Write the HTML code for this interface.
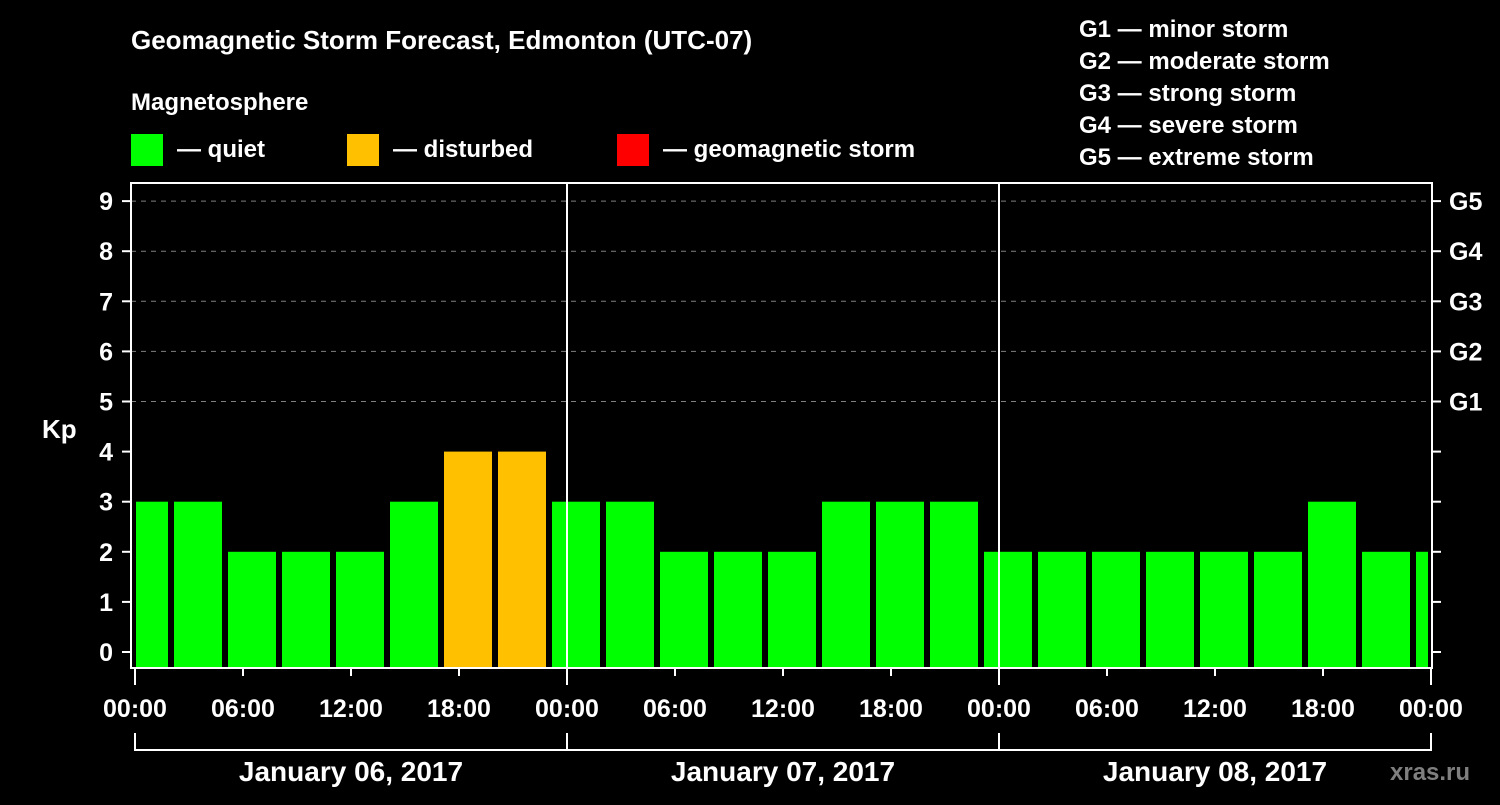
<!DOCTYPE html>
<html><head><meta charset="utf-8"><style>
body{margin:0;background:#000;width:1500px;height:800px;overflow:hidden}
svg text{font-family:"Liberation Sans",sans-serif;font-weight:bold;fill:#fff}
</style></head><body>
<svg width="1500" height="800" xmlns="http://www.w3.org/2000/svg">
<text x="131" y="49" font-size="26">Geomagnetic Storm Forecast, Edmonton (UTC-07)</text>
<text x="131" y="110" font-size="24">Magnetosphere</text>
<rect x="131" y="134" width="32" height="32" fill="#00ff00"/>
<text x="177" y="157" font-size="24">— quiet</text>
<rect x="347" y="134" width="32" height="32" fill="#ffc000"/>
<text x="393" y="157" font-size="24">— disturbed</text>
<rect x="617" y="134" width="32" height="32" fill="#ff0000"/>
<text x="663" y="157" font-size="24">— geomagnetic storm</text>
<g font-size="24">
<text x="1079" y="37">G1 — minor storm</text>
<text x="1079" y="69">G2 — moderate storm</text>
<text x="1079" y="101">G3 — strong storm</text>
<text x="1079" y="133">G4 — severe storm</text>
<text x="1079" y="165">G5 — extreme storm</text>
</g>
<text x="42" y="438" font-size="26">Kp</text>
<g id="grid"></g><g id="bars"></g><g id="axes"></g>
<text x="1390" y="780" font-size="24" fill="#888" style="fill:#7f7f7f">xras.ru</text>
</svg>
<script>
const slotStartHours=[-1,2,5,8,11,14,17,20,23,26,29,32,35,38,41,44,47,50,53,56,59,62,65,68,71];
const kpValues=[3,3,2,2,2,3,4,4,3,3,2,2,2,3,3,3,2,2,2,2,2,2,3,2,2];
const yTicks=[0,1,2,3,4,5,6,7,8,9];
const gLabels=["G1","G2","G3","G4","G5"];
const xTickLabels=["00:00","06:00","12:00","18:00","00:00","06:00","12:00","18:00","00:00","06:00","12:00","18:00","00:00"];
const dayLabels=["January 06, 2017","January 07, 2017","January 08, 2017"];
const NS="http://www.w3.org/2000/svg";
const L=131,R=1432,T=183,B=668;
const x=h=>135+h*18;
const y=v=>652-v*50.1;
function mk(tag,attrs,parent,text){const e=document.createElementNS(NS,tag);for(const k in attrs)e.setAttribute(k,attrs[k]);if(text!=null)e.textContent=text;parent.appendChild(e);return e;}
const grid=document.getElementById('grid'),bars=document.getElementById('bars'),axes=document.getElementById('axes');
yTicks.forEach(v=>{
 if(v>=5){const g=mk('line',{x1:L,x2:R,y1:y(v),y2:y(v),stroke:'#808080','stroke-dasharray':'5,5','stroke-width':1},grid);
 
 }
 const t=mk('line',{x1:122,x2:L,y1:y(v),y2:y(v),stroke:'#fff','stroke-width':2},axes);
 
 
 const lb=mk('text',{x:113,y:y(v)+9,'font-size':25,'text-anchor':'end'},axes,String(v));
 
 
 const rt=mk('line',{x1:R,x2:1441,y1:y(v),y2:y(v),stroke:'#fff','stroke-width':2},axes);
 
 
});
gLabels.forEach((g,i)=>{const t=mk('text',{x:1449,y:y(5+i)+9,'font-size':25},axes,g);
 
 });
kpValues.forEach((v,i)=>{
 let x0=Math.max(x(slotStartHours[i])+3,136),x1=Math.min(x(slotStartHours[i]+3)-3,1428);
 const c=v>=5?'#ff0000':(v>=4?'#ffc000':'#00ff00');
 const r=mk('rect',{x:x0,y:y(v),width:x1-x0,height:B-y(v),fill:c},bars);
 
 
});
mk('rect',{x:L,y:T,width:R-L,height:B-T,fill:'none',stroke:'#fff','stroke-width':2},axes);
[1,2].forEach(d=>{const l=mk('line',{x1:x(24*d),x2:x(24*d),y1:T,y2:B,stroke:'#fff','stroke-width':2},axes);
 
 });
xTickLabels.forEach((s,i)=>{const xx=x(i*6);
 const t=mk('line',{x1:xx,x2:xx,y1:B,y2:i%4==0?685:676,stroke:'#fff','stroke-width':2},axes);
 
 
 const lb=mk('text',{x:xx,y:717,'font-size':25,'text-anchor':'middle'},axes,s);
 
 });
mk('path',{d:`M${x(0)} 733V750H${x(72)}V733`,fill:'none',stroke:'#fff','stroke-width':2},axes);
[1,2].forEach(d=>mk('line',{x1:x(24*d),x2:x(24*d),y1:733,y2:750,stroke:'#fff','stroke-width':2},axes));
dayLabels.forEach((s,i)=>{const t=mk('text',{x:x(24*i+12),y:781,'font-size':28,'text-anchor':'middle'},axes,s);
 
 });
</script>
</body></html>
